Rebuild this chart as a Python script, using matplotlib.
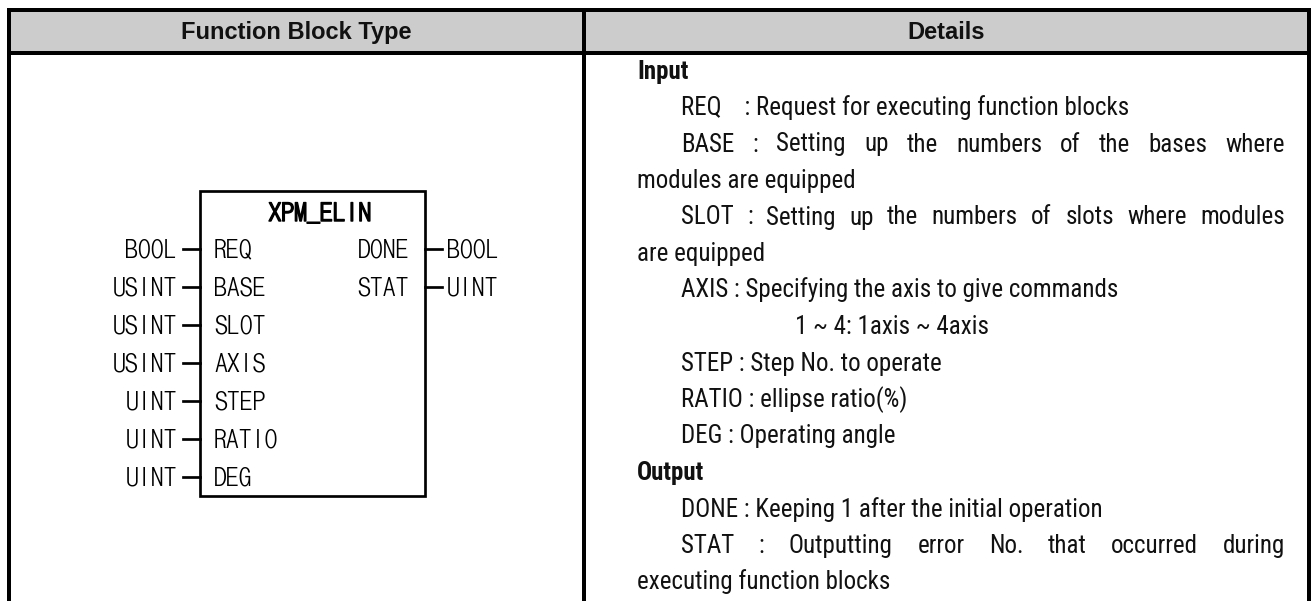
import matplotlib
matplotlib.use("Agg")
import matplotlib.pyplot as plt
import matplotlib.patheffects as pe
from matplotlib.patches import Rectangle

# table contents
headers = ["Function Block Type", "Details"]
block_name = "XPM_ELIN"
in_names = ["REQ", "BASE", "SLOT", "AXIS", "STEP", "RATIO", "DEG"]
in_types = ["BOOL", "USINT", "USINT", "USINT", "UINT", "UINT", "UINT"]
out_names = ["DONE", "STAT"]
out_types = ["BOOL", "UINT"]

# (text, indent level, justified, bold)
detail_lines = [
    ("Input", 0, False, True),
    ("REQ    : Request for executing function blocks", 1, False, False),
    ("BASE : Setting up the numbers of the bases where", 1, True, False),
    ("modules are equipped", 0, False, False),
    ("SLOT : Setting up the numbers of slots where modules", 1, True, False),
    ("are equipped", 0, False, False),
    ("AXIS : Specifying the axis to give commands", 1, False, False),
    ("1 ~ 4: 1axis ~ 4axis", 2, False, False),
    ("STEP : Step No. to operate", 1, False, False),
    ("RATIO : ellipse ratio(%)", 1, False, False),
    ("DEG : Operating angle", 1, False, False),
    ("Output", 0, False, True),
    ("DONE : Keeping 1 after the initial operation", 1, False, False),
    ("STAT : Outputting error No. that occurred during", 1, True, False),
    ("executing function blocks", 0, False, False),
]

W, H = 1314, 601
PT = 72 / 100  # points per pixel at dpi 100

fig = plt.figure(figsize=(W / 100, H / 100), dpi=100)
ax = fig.add_axes([0, 0, 1, 1])
ax.set_xlim(0, W)
ax.set_ylim(H, 0)
ax.axis("off")

sans = ["Liberation Sans", "DejaVu Sans"]
narrow = ["Roboto Condensed", "Liberation Sans"]
mono = ["DotumChe", "DejaVu Sans Mono"]

# table frame
left_x, right_x, div_x = 9, 1309, 584
top_y, head_y = 10, 53
ax.add_patch(Rectangle((left_x, top_y), right_x - left_x, head_y - top_y,
                       facecolor="#cccccc", edgecolor="none"))
lw = 4 * PT
for xs, ys in [([left_x, right_x], [top_y, top_y]),
               ([left_x, right_x], [head_y, head_y]),
               ([left_x, left_x], [top_y, H + 5]),
               ([right_x, right_x], [top_y, H + 5]),
               ([div_x, div_x], [top_y, H + 5])]:
    ax.plot(xs, ys, color="black", lw=lw, solid_capstyle="projecting")

ax.text((left_x + div_x) / 2, 39, headers[0], ha="center", va="baseline",
        fontsize=17, fontweight="bold", family=sans, color="#111111")
ax.text((div_x + right_x) / 2, 39, headers[1], ha="center", va="baseline",
        fontsize=17, fontweight="bold", family=sans, color="#111111")

# function block
bx0, bx1, by0, by1 = 200, 425, 190.5, 496
ax.add_patch(Rectangle((bx0, by0), bx1 - bx0, by1 - by0, fill=False,
                       edgecolor="black", lw=2.7 * PT))
ax.text(320, 212 + 9, block_name, ha="center", va="baseline", fontsize=18.5,
        family=mono, path_effects=[pe.withStroke(linewidth=1.0, foreground="black")])

row0, row_step = 248.5, 38
for i, (name, typ) in enumerate(zip(in_names, in_types)):
    y = row0 + i * row_step
    ax.plot([183, bx0], [y, y], color="black", lw=2.7 * PT)
    ax.text(177, y + 9, typ, ha="right", va="baseline", fontsize=18.5, family=mono)
    ax.text(214, y + 9, name, ha="left", va="baseline", fontsize=18.5, family=mono)
for i, (name, typ) in enumerate(zip(out_names, out_types)):
    y = row0 + i * row_step
    ax.plot([bx1, 442], [y, y], color="black", lw=2.7 * PT)
    ax.text(409, y + 9, name, ha="right", va="baseline", fontsize=18.5, family=mono)
    ax.text(447, y + 9, typ, ha="left", va="baseline", fontsize=18.5, family=mono)

# details column
indents = [637, 681, 795]
text_right = 1285
base0, line_step = 78.5, 36.5
renderer = fig.canvas.get_renderer()
for i, (txt, lvl, just, bold) in enumerate(detail_lines):
    y = base0 + i * line_step
    x0 = indents[lvl]
    kw = dict(va="baseline", fontsize=18, family=narrow, color="#111111",
              fontweight="bold" if bold else "normal")
    if not just:
        ax.text(x0, y, txt, ha="left", **kw)
        continue
    words = txt.split()
    objs = [ax.text(0, y, w, ha="left", **kw) for w in words]
    widths = [o.get_window_extent(renderer).width for o in objs]
    gap = (text_right - x0 - sum(widths)) / (len(words) - 1)
    x = x0
    for o, w in zip(objs, widths):
        o.set_x(x)
        x += w + gap

fig.savefig("out.png", dpi=100)
